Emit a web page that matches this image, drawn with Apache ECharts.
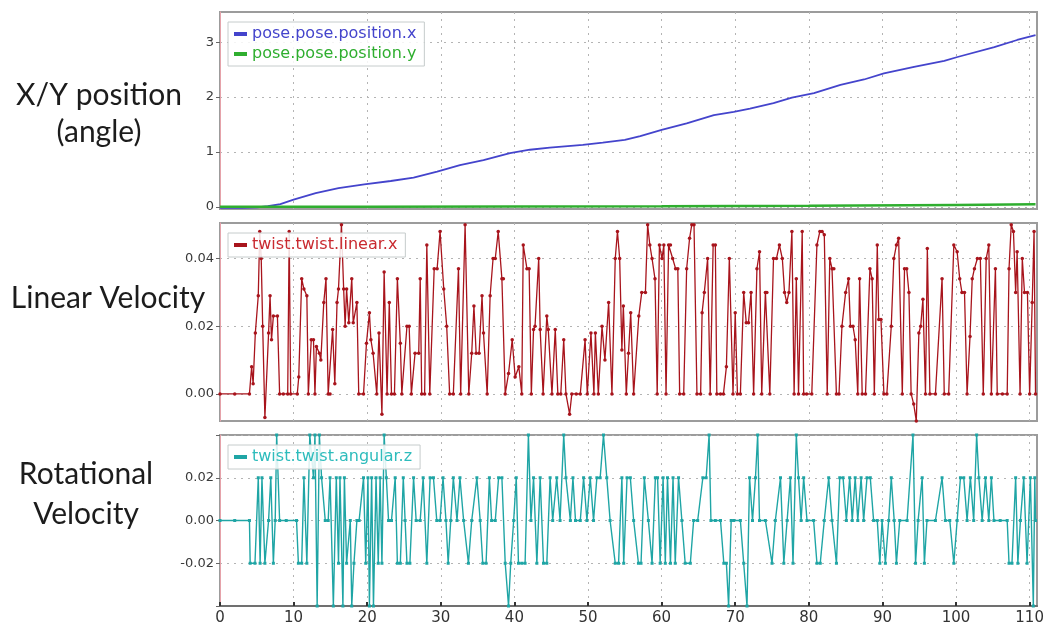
<!DOCTYPE html>
<html>
<head>
<meta charset="utf-8">
<script src="https://cdn.jsdelivr.net/npm/echarts@6/dist/echarts.min.js"></script>
<style>
  html, body { margin: 0; padding: 0; background: #fff; }
  #chart { width: 1058px; height: 634px; }
</style>
</head>
<body>
<div id="chart"></div>
<script>
// Robot odometry log: pose, linear velocity and rotational velocity over time (s)

const seriesNames = ['pose.pose.position.x', 'pose.pose.position.y', 'twist.twist.linear.x', 'twist.twist.angular.z'];
const panelTitles = [['X/Y position', '(angle)'], ['Linear Velocity'], ['Rotational', 'Velocity']];

const timeTicks = [0, 10, 20, 30, 40, 50, 60, 70, 80, 90, 100, 110];
const poseTicks = [0, 1, 2, 3];
const linearTicks = [0, 0.02, 0.04];
const angularTicks = [-0.04, -0.02, 0, 0.02, 0.04];
const angularLabels = [-0.02, 0, 0.02];

// [time, value]
const poseX = [
  [0, -0.02], [3, -0.02], [5, -0.01], [6.5, 0.01], [8.2, 0.05], [10, 0.13], [13, 0.25], [16.1, 0.34],
  [19.6, 0.41], [23.2, 0.47], [26.3, 0.53], [29.5, 0.64], [32.6, 0.76], [35.8, 0.85], [39.4, 0.98],
  [42.1, 1.04], [44.8, 1.08], [49.3, 1.13], [52, 1.17], [55, 1.22], [57.1, 1.29], [60, 1.40],
  [63.4, 1.52], [67.1, 1.67], [69.8, 1.73], [72, 1.79], [75.2, 1.89], [77.7, 1.99], [80.7, 2.07],
  [84.3, 2.22], [87.5, 2.32], [90.2, 2.43], [94.3, 2.55], [98.4, 2.66], [100.2, 2.73], [105.2, 2.91],
  [108.3, 3.04], [110.8, 3.13]
];

const poseY = [
  [0, 0], [20, 0], [40, 0.005], [60, 0.01], [80, 0.02], [100, 0.035], [110.8, 0.045]
];

const linearX = [
  [0, 0], [2, 0], [4.0, 0], [4.3, 0.008], [4.5, 0.003], [4.8, 0.018], [5.2, 0.029], [5.4, 0.048], [5.6, 0.040],
  [5.8, 0.020], [6.1, -0.007], [6.6, 0.018], [6.8, 0.029], [7.0, 0.016], [7.25, 0.023], [7.8, 0.023], [8.1, 0],
  [8.6, 0], [9.2, 0], [9.4, 0.048], [9.6, 0], [10.5, 0], [10.7, 0.005], [11.1, 0.034], [11.4, 0.031],
  [11.8, 0.029], [12.0, 0], [12.4, 0.016], [12.7, 0.016], [12.9, 0], [13.1, 0.014], [13.5, 0.012],
  [13.7, 0.010], [14.1, 0.027], [14.4, 0.034], [14.7, 0], [14.95, 0], [15.3, 0.019], [15.6, 0.003],
  [15.9, 0.027], [16.1, 0.031], [16.5, 0.050], [16.8, 0.031], [17.0, 0.020], [17.2, 0.031], [17.5, 0.021],
  [17.9, 0.034], [18.1, 0.021], [18.6, 0.027], [18.85, 0], [19.5, 0], [19.9, 0.015], [20.3, 0.024],
  [20.5, 0.016], [20.8, 0.012], [21.3, 0], [21.6, 0.018], [22.0, -0.006], [22.3, 0.036], [22.7, 0],
  [23.0, 0.027], [23.3, 0], [23.7, 0], [24.1, 0.034], [24.5, 0.015], [24.7, 0], [25.4, 0.020], [25.7, 0.020],
  [26.0, 0], [26.5, 0.012], [27.0, 0.012], [27.2, 0.034], [27.4, 0], [27.8, 0], [28.1, 0.044], [28.5, 0],
  [29.1, 0.037], [29.5, 0.037], [29.9, 0.048], [30.4, 0.031], [30.8, 0.020], [31.2, 0], [31.7, 0],
  [32.4, 0.037], [32.7, 0], [33.3, 0.050], [33.8, 0], [34.2, 0.012], [34.5, 0.026], [34.8, 0.012],
  [35.2, 0.012], [35.6, 0.029], [35.8, 0.018], [36.3, 0], [36.7, 0.029], [37.1, 0.040], [37.4, 0.040],
  [37.8, 0.048], [38.3, 0.034], [38.5, 0.034], [38.75, 0], [39.2, 0.006], [39.7, 0.016], [40.1, 0.005],
  [40.6, 0.008], [41.0, 0], [41.2, 0.044], [41.7, 0.037], [42.0, 0.037], [42.3, 0], [42.6, 0.019],
  [42.8, 0.020], [43.3, 0.040], [43.5, 0.019], [43.9, 0], [44.4, 0.023], [44.6, 0.019], [45.1, 0],
  [45.55, 0.019], [45.9, 0], [46.3, 0], [46.7, 0.016], [47.0, 0], [47.5, -0.006], [47.8, 0], [48.4, 0],
  [48.95, 0], [49.6, 0.016], [49.9, 0], [50.4, 0.018], [50.8, 0], [51.0, 0.018], [51.4, 0], [51.9, 0.020],
  [52.3, 0.010], [52.8, 0.027], [53.25, 0], [53.7, 0.040], [54.0, 0.048], [54.3, 0.040], [54.6, 0.013],
  [54.8, 0.026], [55.2, 0], [55.5, 0.012], [55.8, 0.024], [56.2, 0], [56.9, 0.023], [57.3, 0.030],
  [57.8, 0.030], [58.1, 0.050], [58.4, 0.044], [58.7, 0.040], [59.1, 0.034], [59.4, 0], [59.7, 0.044],
  [60.05, 0.040], [60.3, 0.044], [60.6, 0], [60.95, 0.044], [61.2, 0.044], [61.5, 0.040], [61.9, 0.037],
  [62.2, 0.037], [62.45, 0], [63.0, 0], [63.4, 0.037], [63.8, 0.046], [64.1, 0.050], [64.4, 0.050],
  [64.8, 0], [65.3, 0], [65.5, 0.024], [65.8, 0.030], [66.25, 0.040], [66.6, 0], [67.0, 0.044],
  [67.3, 0.044], [67.5, 0], [68.0, 0], [68.4, 0], [68.8, 0.008], [69.2, 0.040], [69.7, 0], [70.0, 0.024],
  [70.3, 0], [70.7, 0], [71.15, 0.030], [71.5, 0.021], [71.8, 0.021], [72.15, 0.030], [72.5, 0],
  [72.95, 0.037], [73.3, 0.042], [73.6, 0], [74.1, 0.030], [74.3, 0.030], [74.7, 0], [75.2, 0.040],
  [75.6, 0.040], [76.0, 0.044], [76.4, 0.040], [76.7, 0.030], [77.0, 0.027], [77.3, 0.030], [77.7, 0.048],
  [78.0, 0], [78.3, 0.034], [78.6, 0], [79.1, 0.048], [79.3, 0], [79.7, 0], [80.4, 0], [81.1, 0.044],
  [81.5, 0.048], [81.8, 0.048], [82.1, 0.047], [82.5, 0], [82.85, 0.040], [83.15, 0.037], [83.4, 0.037],
  [83.75, 0], [84.1, 0], [84.5, 0.020], [85.0, 0.030], [85.4, 0.034], [85.65, 0.020], [86.0, 0.020],
  [86.3, 0.016], [86.65, 0], [86.9, 0.034], [87.25, 0], [87.7, 0], [88.3, 0.037], [88.6, 0.034],
  [88.9, 0], [89.3, 0.044], [89.5, 0.022], [89.8, 0.022], [90.2, 0], [90.6, 0], [91.2, 0.020],
  [91.55, 0.040], [91.9, 0.044], [92.2, 0.046], [92.7, 0], [93.0, 0.037], [93.3, 0.037], [93.6, 0.030],
  [93.9, 0], [94.25, -0.003], [94.6, -0.008], [94.95, 0.018], [95.2, 0.020], [95.5, 0.028], [95.85, 0],
  [96.1, 0.043], [96.45, 0], [97.2, 0], [98.1, 0.034], [98.4, 0], [99.0, 0], [99.7, 0.044],
  [100.15, 0.042], [100.5, 0.034], [100.8, 0.030], [101.15, 0.030], [101.5, 0], [101.9, 0.017],
  [102.2, 0.034], [102.5, 0.037], [102.9, 0.040], [103.3, 0.040], [103.7, 0], [104.1, 0.040],
  [104.45, 0.044], [104.8, 0], [105.35, 0.037], [105.6, 0], [106.3, 0], [106.95, 0], [107.2, 0.037],
  [107.5, 0.050], [107.8, 0.048], [108.1, 0.030], [108.3, 0.042], [108.7, 0], [109.0, 0.040],
  [109.3, 0.030], [109.7, 0.030], [110.0, 0], [110.35, 0.027], [110.6, 0.048], [110.8, 0]
];

const angularZ = [
  [0, 0], [2, 0], [4.0, 0], [4.1, -0.02], [4.75, -0.02], [5.2, 0.02], [5.45, -0.02], [5.7, 0.02], [6.1, -0.02],
  [6.6, 0], [6.9, 0.02], [7.25, -0.02], [7.5, 0], [7.7, 0.04], [8.1, 0], [9.0, 0], [10.4, 0], [10.65, -0.02],
  [11.1, -0.02], [11.4, 0.02], [11.8, -0.02], [12.2, 0.04], [12.7, 0.02], [12.9, 0.04], [13.2, -0.04],
  [13.5, 0.04], [13.8, 0.02], [14.3, 0], [14.7, 0], [14.95, 0.02], [15.4, -0.04], [15.8, 0.02],
  [16.1, -0.02], [16.3, 0.02], [16.7, -0.04], [16.9, 0.02], [17.2, -0.02], [17.7, 0], [17.9, -0.04],
  [18.2, -0.02], [18.6, 0], [18.9, 0], [19.5, 0.02], [19.8, -0.02], [20.1, 0.02], [20.3, -0.04],
  [20.6, 0.02], [20.85, -0.04], [21.2, 0.02], [21.5, -0.02], [21.75, 0.02], [22.0, -0.02], [22.3, 0.04],
  [22.6, 0.02], [22.9, 0], [23.3, 0], [23.8, 0.02], [24.1, -0.02], [24.5, -0.02], [24.9, 0.02], [25.15, 0],
  [25.4, -0.02], [25.8, -0.02], [26.3, 0.02], [26.65, 0], [27.2, 0], [27.6, 0.02], [28.1, -0.02],
  [28.55, 0.02], [29.0, 0.02], [29.45, 0], [29.9, 0], [30.3, 0.02], [30.7, 0], [31.0, -0.02], [31.35, 0],
  [31.7, 0.02], [32.2, 0], [32.6, 0.02], [33.1, 0], [33.75, -0.02], [34.2, 0], [34.9, 0.02], [35.35, 0],
  [35.7, -0.02], [36.15, -0.02], [36.6, 0.02], [36.9, 0], [37.4, 0], [37.85, 0.02], [38.3, 0.02],
  [38.75, -0.02], [39.2, -0.04], [39.5, -0.02], [39.9, 0], [40.25, 0.02], [40.55, -0.02], [41.0, -0.02],
  [41.45, -0.02], [41.9, 0.04], [42.25, 0], [42.6, 0.02], [43.05, -0.02], [43.5, 0.02], [43.95, -0.02],
  [44.4, -0.02], [44.85, 0.02], [45.2, 0], [45.75, 0.02], [46.2, 0], [46.7, 0.04], [47.0, 0.02],
  [47.6, 0], [47.95, 0.02], [48.3, 0], [48.95, 0], [49.4, 0.02], [49.85, 0], [50.3, 0.02], [50.75, 0],
  [51.2, 0.02], [51.65, 0.02], [52.1, 0.04], [52.55, 0.02], [53.0, 0], [53.7, -0.02], [54.15, -0.02],
  [54.6, 0.02], [54.85, -0.02], [55.3, 0.02], [55.75, 0.02], [56.2, 0], [56.85, -0.02], [57.2, -0.02],
  [57.65, 0.02], [58.2, 0], [58.7, -0.02], [59.15, 0.02], [59.45, 0.02], [59.8, -0.02], [60.2, 0.02],
  [60.5, -0.02], [60.8, 0.02], [61.2, -0.02], [61.55, 0.02], [61.85, -0.02], [62.3, 0.02], [62.75, 0],
  [63.2, -0.02], [63.9, -0.02], [64.35, 0], [64.9, 0], [65.6, 0.02], [66.05, 0.02], [66.45, 0.04],
  [66.7, 0], [67.3, 0], [68.0, 0], [68.45, -0.02], [68.8, -0.02], [69.1, -0.04], [69.45, 0], [69.8, 0],
  [70.7, 0], [71.15, -0.02], [71.6, -0.04], [71.95, 0.02], [72.35, 0], [72.75, 0.02], [73.05, 0.04],
  [73.3, 0], [74.1, 0], [75.0, -0.02], [75.45, 0], [76.15, 0.02], [76.6, -0.02], [77.05, 0],
  [77.5, 0.02], [77.85, -0.02], [78.3, 0.04], [78.6, 0.02], [78.95, 0], [79.3, 0.02], [79.75, 0],
  [80.65, 0], [81.1, -0.02], [81.55, -0.02], [82.1, 0], [82.7, 0.02], [83.15, 0], [83.75, -0.02],
  [84.2, 0.02], [84.65, 0.02], [85.1, 0], [85.55, 0.02], [85.9, 0], [86.3, 0.02], [86.65, 0],
  [87.1, 0.02], [87.45, 0], [87.9, 0.02], [88.35, 0.02], [88.8, 0], [89.3, 0], [89.65, -0.02],
  [89.95, 0], [90.4, -0.02], [90.85, 0], [91.2, 0.02], [91.6, 0], [91.9, -0.02], [92.35, 0],
  [93.35, 0], [94.15, 0.04], [94.5, -0.02], [94.85, 0], [95.4, 0.02], [95.7, -0.02], [96.05, 0],
  [97.2, 0], [98.1, 0.02], [98.55, 0], [99.15, 0], [99.7, -0.02], [100.15, 0], [100.6, 0.02],
  [101.05, 0.02], [101.5, 0], [101.95, 0.02], [102.4, 0], [102.8, 0.04], [103.1, 0.02], [103.55, 0],
  [104.0, 0.02], [104.45, 0], [104.8, 0.02], [105.15, 0], [106.0, 0], [106.95, 0], [107.2, -0.02],
  [107.6, -0.02], [108.1, 0.02], [108.4, -0.02], [108.75, 0], [109.2, 0.02], [109.65, -0.02],
  [110.1, 0.02], [110.5, -0.04], [110.7, 0.02], [110.8, 0]
];

const FONT = 'DejaVu Sans';
const COLORS = {
  poseX: '#4444cc',
  poseY: '#2fae2f',
  linear: '#c92a30',
  linearDot: '#a8141c',
  angular: '#2ebcbc',
  angularDot: '#1fa5a5'
};

const grids = [
  { left: 220, right: 21, top: 12, height: 197 },
  { left: 220, right: 21, top: 223, height: 198 },
  { left: 220, right: 21, top: 435, height: 171 }
];

const gridLine = { show: true, lineStyle: { color: '#b4b4b4', type: [2, 5], width: 1 } };

function xAxisFor(i, showLabels) {
  return {
    type: 'value', gridIndex: i, min: 0, max: 111,
    axisLine: { show: showLabels, onZero: false, lineStyle: { color: '#707070', width: 2 } },
    axisTick: { show: showLabels, inside: true, length: 4, customValues: timeTicks, lineStyle: { color: '#333', width: 2 } },
    axisLabel: { show: showLabels, customValues: timeTicks, color: '#333', fontFamily: FONT, fontSize: 15, margin: 5 },
    splitLine: gridLine
  };
}

function yAxisFor(i, min, max, ticks, labels, fmt) {
  return {
    type: 'value', gridIndex: i, min: min, max: max,
    axisLine: { show: true, onZero: false, lineStyle: { color: '#e6a2aa', width: 1 } },
    axisTick: { show: true, length: 4, customValues: ticks, lineStyle: { color: '#666' } },
    axisLabel: { customValues: labels, color: '#3a3a3a', fontFamily: FONT, fontSize: 13, margin: 6, formatter: fmt },
    splitLine: gridLine
  };
}

function legendFor(top, names, colors) {
  return {
    left: 228, top: top, orient: 'vertical',
    backgroundColor: 'rgba(255,255,255,0.85)', borderColor: '#c6cccc', borderWidth: 1,
    padding: [4, 8, 4, 6], itemGap: 4, itemWidth: 13, itemHeight: 4, icon: 'rect',
    textStyle: { fontFamily: FONT, fontSize: 16 },
    data: names.map((n, k) => ({ name: n, textStyle: { color: colors[k] } }))
  };
}

// Row labels to the left of each panel
function titleText(lines, cx, cy, lh) {
  return lines.map((t, k) => ({
    type: 'text', x: cx, y: cy + (k - (lines.length - 1) / 2) * lh,
    style: { text: t, fill: '#1c1c1c', font: '30px Lato', align: 'center', verticalAlign: 'middle' }
  }));
}

const chart = echarts.init(document.getElementById('chart'), null, { renderer: 'canvas' });

chart.setOption({
  animation: false,
  backgroundColor: '#ffffff',
  grid: grids.map(g => Object.assign({ show: true, borderColor: '#9c9c9c', borderWidth: 2, backgroundColor: '#fff' }, g)),
  xAxis: [xAxisFor(0, false), xAxisFor(1, false), xAxisFor(2, true)],
  yAxis: [
    yAxisFor(0, -0.04, 3.55, poseTicks, poseTicks, v => String(v)),
    yAxisFor(1, -0.008, 0.0505, linearTicks, linearTicks, v => v.toFixed(2)),
    yAxisFor(2, -0.04, 0.04, angularTicks, angularLabels, v => v.toFixed(2))
  ],
  legend: [
    legendFor(22, [seriesNames[0], seriesNames[1]], [COLORS.poseX, COLORS.poseY]),
    legendFor(233, [seriesNames[2]], [COLORS.linear]),
    legendFor(445, [seriesNames[3]], [COLORS.angular])
  ],
  graphic: [].concat(
    titleText(panelTitles[0], 99, 114, 37),
    titleText(panelTitles[1], 108, 298, 37),
    titleText(panelTitles[2], 86, 494, 40)
  ),
  series: [
    {
      name: seriesNames[0], type: 'line', xAxisIndex: 0, yAxisIndex: 0, data: poseX,
      showSymbol: false, color: COLORS.poseX, lineStyle: { width: 1.8 }
    },
    {
      name: seriesNames[1], type: 'line', xAxisIndex: 0, yAxisIndex: 0, data: poseY,
      showSymbol: false, color: COLORS.poseY, lineStyle: { width: 2.5 }
    },
    {
      name: seriesNames[2], type: 'line', xAxisIndex: 1, yAxisIndex: 1, data: linearX,
      color: COLORS.linear, lineStyle: { width: 1.3 }, symbol: 'circle', symbolSize: 3.5,
      itemStyle: { color: COLORS.linearDot }, clip: true
    },
    {
      name: seriesNames[3], type: 'line', xAxisIndex: 2, yAxisIndex: 2, data: angularZ,
      color: COLORS.angular, lineStyle: { width: 1.4 }, symbol: 'rect', symbolSize: 3,
      itemStyle: { color: COLORS.angularDot }, clip: true
    }
  ]
});
</script>
</body>
</html>
